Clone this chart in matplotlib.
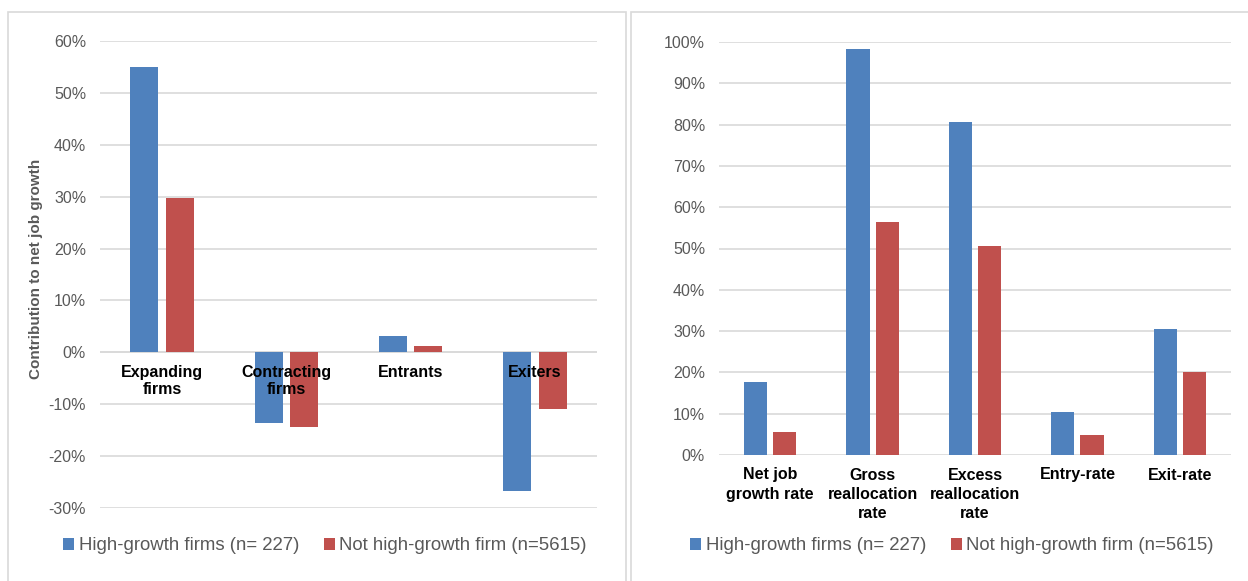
import numpy as np
import matplotlib

matplotlib.use("Agg")

import matplotlib.pyplot as plt
from matplotlib.patches import Rectangle
from matplotlib.ticker import FuncFormatter

plt.rcParams["font.family"] = ["Liberation Sans", "DejaVu Sans"]
plt.rcParams["axes.unicode_minus"] = False

# ---- data ----
left_cats = ["Expanding\nfirms", "Contracting\nfirms", "Entrants", "Exiters"]
left_high = [54.9, -13.7, 3.2, -26.7]
left_not = [29.7, -14.4, 1.3, -10.9]

right_cats = ["Net job\ngrowth rate", "Gross\nreallocation\nrate",
              "Excess\nreallocation\nrate", "Entry-rate", "Exit-rate"]
right_high = [17.6, 98.4, 80.6, 10.5, 30.6]
right_not = [5.6, 56.4, 50.7, 4.9, 20.2]

series_names = ["High-growth firms (n= 227)", "Not high-growth firm (n=5615)"]

BLUE = "#4F81BD"
RED = "#C0504D"
GRID = "#D9D9D9"
TXT = "#595959"

W, H = 1248, 581
fig = plt.figure(figsize=(W / 100, H / 100), dpi=100)


def fx(px):
    return px / W


def fy(py):
    return 1 - py / H


# panel frames
fig.patches.append(Rectangle((fx(8), fy(590)), fx(618), fy(12) - fy(590),
                             transform=fig.transFigure, fill=False,
                             edgecolor=GRID, linewidth=1.2))
fig.patches.append(Rectangle((fx(631), fy(590)), fx(630), fy(12) - fy(590),
                             transform=fig.transFigure, fill=False,
                             edgecolor=GRID, linewidth=1.2))

bw = 0.225
off = 0.1425
pct = FuncFormatter(lambda v, p: f"{v:.0f}%")


def style_axes(ax):
    for s in ax.spines.values():
        s.set_visible(False)
    ax.set_axisbelow(True)
    ax.yaxis.grid(True, color=GRID, linewidth=1.2)
    ax.tick_params(axis="y", length=0, pad=10, labelsize=11.5, labelcolor=TXT)
    ax.tick_params(axis="x", length=0)
    ax.yaxis.set_major_formatter(pct)


leg_kw = dict(loc="center", ncol=2, frameon=False, fontsize=13.4,
              handlelength=0.6, handleheight=0.6, handletextpad=0.25,
              columnspacing=1.3, labelcolor=TXT)

# ---- left panel ----
axl = fig.add_axes([fx(100), fy(508), fx(597) - fx(100), fy(41) - fy(508)])
xl = np.arange(len(left_cats))
b1 = axl.bar(xl - off, left_high, bw, color=BLUE, zorder=2)
b2 = axl.bar(xl + off, left_not, bw, color=RED, zorder=2)
style_axes(axl)
axl.set_xlim(-0.5, len(left_cats) - 0.5)
axl.set_ylim(-30, 60)
axl.set_yticks(np.arange(-30, 61, 10))
axl.set_xticks([])
axl.axhline(0, color=GRID, linewidth=1.2, zorder=1)
for i, lab in enumerate(left_cats):
    axl.annotate(lab, (i, 0), xytext=(0, -9), textcoords="offset points",
                 ha="center", va="top", fontsize=11.5, fontweight="bold",
                 color="black", linespacing=1.2, zorder=5)
axl.set_ylabel("Contribution to net job growth", fontsize=11,
               fontweight="bold", color=TXT)
axl.yaxis.set_label_coords(-0.114, 0.512)

fig.legend([b1, b2], series_names, bbox_to_anchor=(fx(325), fy(546)), **leg_kw)

# ---- right panel ----
axr = fig.add_axes([fx(719), fy(455), fx(1231) - fx(719), fy(42) - fy(455)])
xr = np.arange(len(right_cats))
c1 = axr.bar(xr - off, right_high, bw, color=BLUE, zorder=2)
c2 = axr.bar(xr + off, right_not, bw, color=RED, zorder=2)
style_axes(axr)
axr.set_xlim(-0.5, len(right_cats) - 0.5)
axr.set_ylim(0, 100)
axr.set_yticks(np.arange(0, 101, 10))
axr.set_xticks(xr)
axr.set_xticklabels(right_cats, fontsize=11.5, fontweight="bold",
                    color="black", linespacing=1.35)
axr.tick_params(axis="x", pad=9)

fig.legend([c1, c2], series_names, bbox_to_anchor=(fx(952), fy(546)), **leg_kw)

fig.savefig("out.png", dpi=100, facecolor="white")
